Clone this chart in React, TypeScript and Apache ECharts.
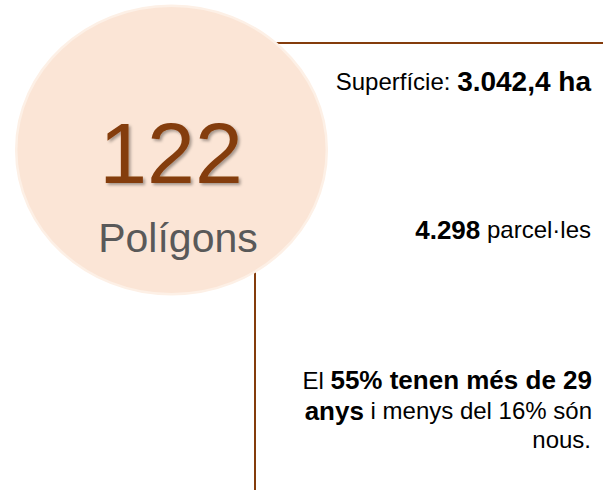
import React, { useEffect, useRef } from "react";
import * as echarts from "echarts";

// ---- Data ----
const headlineValue = ["122"];
const headlineLabel = ["Polígons"];
const surfaceParts = ["Superfície: ", "3.042,4 ha"];
const parcelParts = ["4.298", " parcel·les"];
const ageLine1 = ["El ", "55% tenen més de 29"];
const ageLine2 = ["anys", " i menys del 16% són"];
const ageLine3 = ["nous."];

const BROWN = "#843C0C";
const FONT = "'Liberation Sans', Arial, Helvetica, sans-serif";

export default function App() {
  const ref = useRef<HTMLDivElement>(null);
  useEffect(() => {
    document.body.style.margin = "0";
    if (!ref.current) return;
    const chart = echarts.init(ref.current, null, { renderer: "svg" });

    const rich = {
      r: { fontSize: 24, fontFamily: FONT, color: "#000" },
      b: { fontSize: 26, fontWeight: "bold", fontFamily: FONT, color: "#000" },
      bl: { fontSize: 28, fontWeight: "bold", fontFamily: FONT, color: "#000" },
    };
    const rt = (x: number, y: number, text: string) => ({
      type: "text",
      x,
      y,
      z: 10,
      style: {
        text,
        rich,
        align: "right",
        verticalAlign: "middle",
        fontFamily: FONT,
        fontSize: 24,
        fill: "#000",
      },
    });

    chart.setOption({
      animation: false,
      backgroundColor: "#ffffff",
      graphic: [
        {
          type: "line",
          z: 1,
          shape: { x1: 250, y1: 43, x2: 603, y2: 43 },
          style: { stroke: BROWN, lineWidth: 2 },
        },
        {
          type: "line",
          z: 1,
          shape: { x1: 255, y1: 250, x2: 255, y2: 490 },
          style: { stroke: BROWN, lineWidth: 2 },
        },
        {
          type: "ellipse",
          z: 5,
          shape: { cx: 171.5, cy: 150, rx: 155.3, ry: 144.3 },
          style: { fill: "#FBE5D6", stroke: "#FDF0E6", lineWidth: 2.5 },
        },
        {
          type: "text",
          z: 10,
          x: 171,
          y: 153.2,
          style: {
            text: headlineValue[0],
            fontSize: 86,
            fontFamily: FONT,
            fill: BROWN,
            align: "center",
            verticalAlign: "middle",
            textShadowColor: "rgba(0,0,0,0.35)",
            textShadowBlur: 3,
            textShadowOffsetX: 2,
            textShadowOffsetY: 2,
          },
        },
        {
          type: "text",
          z: 10,
          x: 178,
          y: 238.2,
          style: {
            text: headlineLabel[0],
            fontSize: 41,
            fontFamily: FONT,
            fill: "#595959",
            align: "center",
            verticalAlign: "middle",
          },
        },
        rt(591, 81.5, `{r|${surfaceParts[0]}}{bl|${surfaceParts[1]}}`),
        rt(591, 229.6, `{b|${parcelParts[0]}}{r|${parcelParts[1]}}`),
        rt(592, 380.3, `{r|${ageLine1[0]}}{b|${ageLine1[1]}}`),
        rt(592, 410.6, `{b|${ageLine2[0]}}{r|${ageLine2[1]}}`),
        rt(591, 439.7, `{r|${ageLine3[0]}}`),
      ],
    });
    return () => chart.dispose();
  }, []);
  return <div ref={ref} style={{ width: 603, height: 492 }} />;
}
